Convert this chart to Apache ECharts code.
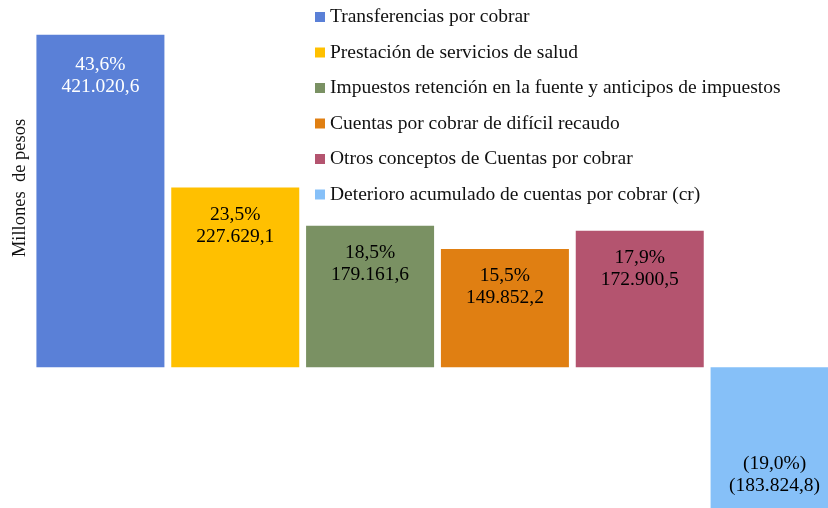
<!DOCTYPE html>
<html>
<head>
<meta charset="utf-8">
<script src="https://cdn.jsdelivr.net/npm/echarts@6/dist/echarts.min.js"></script>
<style>
  html, body { margin: 0; padding: 0; background: #fff; }
  #chart { width: 828px; height: 508px; }
</style>
</head>
<body>
<div id="chart"></div>
<script>
// datos del grafico
var categories = [
  "Transferencias por cobrar",
  "Prestación de servicios de salud",
  "Impuestos retención en la fuente y anticipos de impuestos",
  "Cuentas por cobrar de difícil recaudo",
  "Otros conceptos de Cuentas por cobrar",
  "Deterioro acumulado de cuentas por cobrar (cr)"
];
var values = [421020.6, 227629.1, 179161.6, 149852.2, 172900.5, -183824.8];
var percents = [43.6, 23.5, 18.5, 15.5, 17.9, -19.0];
var colors = ["#5A80D7", "#FFC000", "#7A9163", "#E07F12", "#B4546F", "#86C0F8"];
var labelColors = ["#ffffff", "#000000", "#000000", "#000000", "#000000", "#000000"];
var labelDist = [19, 16, 16, 16, 16, 15];

// formato 1.234,5 y negativos entre parentesis
function fmt(v, suffix) {
  var s = Math.abs(v).toFixed(1).split(".");
  var ent = s[0].replace(/\B(?=(\d{3})+(?!\d))/g, ".");
  var txt = ent + "," + s[1] + (suffix || "");
  return v < 0 ? "(" + txt + ")" : txt;
}

var myChart = echarts.init(document.getElementById("chart"));
var FONT = "'Liberation Serif', 'Times New Roman', serif";

var series = [];
for (var i = 0; i < categories.length; i++) {
  var data = [];
  for (var j = 0; j < categories.length; j++) {
    data.push(j == i ? values[i] : "-");
  }
  series.push({
    name: categories[i],
    type: "bar",
    stack: "total",
    barWidth: 128,
    data: data,
    itemStyle: { color: colors[i] },
    label: {
      show: true,
      position: values[i] < 0 ? "insideBottom" : "insideTop",
      distance: labelDist[i],
      color: labelColors[i],
      fontFamily: FONT,
      fontSize: 19.5,
      lineHeight: 22,
      formatter: (function (k) {
        return function () {
          return fmt(percents[k], "%") + "\n" + fmt(values[k]);
        };
      })(i)
    }
  });
}

var option = {
  backgroundColor: "#fff",
  animation: false,
  legend: {
    orient: "vertical",
    left: 315,
    top: 7,
    padding: 0,
    itemWidth: 10,
    itemHeight: 10,
    itemGap: 15.5,
    icon: "rect",
    textStyle: {
      fontFamily: FONT,
      fontSize: 19.5,
      lineHeight: 20,
      color: "#111"
    },
    data: categories
  },
  grid: {
    outerBoundsMode: "none",
    left: 33,
    right: -14,
    top: 12,
    bottom: -17
  },
  xAxis: {
    type: "category",
    data: categories,
    axisLine: { show: false },
    axisTick: { show: false },
    axisLabel: { show: false }
  },
  yAxis: {
    type: "value",
    min: -200000,
    max: 450000,
    show: false,
    splitLine: { show: false }
  },
  graphic: [
    {
      type: "text",
      x: 20,
      y: 188,
      rotation: Math.PI / 2,
      style: {
        text: "Millones  de pesos",
        fontFamily: FONT,
        fontSize: 18.5,
        fill: "#111",
        align: "center",
        verticalAlign: "middle"
      }
    }
  ],
  series: series
};

myChart.setOption(option);
</script>
</body>
</html>
